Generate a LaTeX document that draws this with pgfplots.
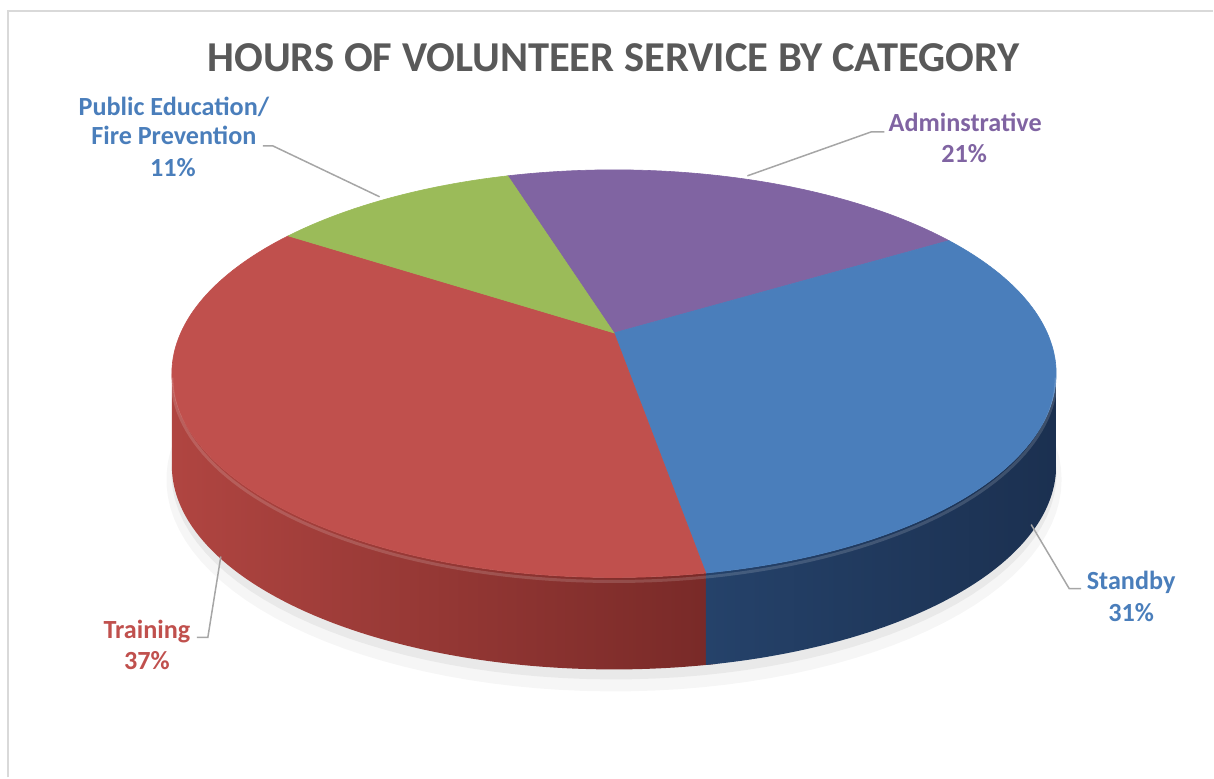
\documentclass[border=0pt]{standalone}
\usepackage{fontspec}
\setmainfont{Carlito}
\usepackage{pgfplots}
\pgfplotsset{compat=1.18}
\usepackage{pgfplotstable}

\definecolor{cPurple}{HTML}{8064A2}
\definecolor{cBlue}{HTML}{4A7EBB}
\definecolor{cRed}{HTML}{C0504D}
\definecolor{cGreen}{HTML}{9BBB59}
\definecolor{redSideL}{HTML}{B04541}
\definecolor{redSideR}{HTML}{772927}
\definecolor{blueSideL}{HTML}{25426A}
\definecolor{blueSideR}{HTML}{1B3050}
\definecolor{titlegray}{HTML}{595959}
\definecolor{leader}{HTML}{A6A6A6}
\definecolor{frame}{HTML}{D9D9D9}

% pie in perspective: disk angle -> picture position (axis units = pixels)
\def\PX#1{(614.5+433.6*cos(#1)/(1+0.2*sin(#1)))}
\def\PY#1{(404+(204*sin(#1)+40.8)/(1+0.2*sin(#1)))}
% side band: t in [0,1] runs the top rim from #1 to #2, t in [1,2] runs back along the bottom rim
\def\SA#1#2{(x<=1 ? ((#1)+((#2)-(#1))*x) : ((#2)-((#2)-(#1))*(x-1)))}
\def\SD{(x<=1 ? 0 : 92)}

\pgfplotstableread{
label pct
Adminstrative 21
Standby 31
Training 37
PublicEd 11
}\piedata

\begin{document}
\begin{tikzpicture}
\pgfplotstablegetelem{0}{pct}\of\piedata \let\pA\pgfplotsretval
\pgfplotstablegetelem{1}{pct}\of\piedata \let\pB\pgfplotsretval
\pgfplotstablegetelem{2}{pct}\of\piedata \let\pC\pgfplotsretval
\pgfplotstablegetelem{3}{pct}\of\piedata \let\pD\pgfplotsretval
\pgfmathsetmacro\aA{107}
\pgfmathsetmacro\aB{\aA-3.6*\pA}
\pgfmathsetmacro\aC{\aB-3.6*\pB}
\pgfmathsetmacro\aD{\aC-3.6*\pC}
\pgfmathsetmacro\aE{\aD-3.6*\pD}
\pgfmathsetmacro\aCx{\aC+2}
\begin{axis}[
at={(0,0)}, anchor=south west,
scale only axis, width=607pt, height=389pt,
xmin=0, xmax=1214, ymin=0, ymax=778,
hide axis, clip=false
]
\path (axis cs:0,0) rectangle (axis cs:1214,778);
% frame
\draw[frame, line width=1pt] (axis cs:8,0) -- (axis cs:8,767) -- (axis cs:1214,767);

% shadow
\addplot[fill=black, fill opacity=0.035, draw=none, domain=0:360, samples=120]
  ({614.5+448*cos(x)}, {298+212*sin(x)}) -- cycle;
\addplot[fill=black, fill opacity=0.05, draw=none, domain=0:360, samples=120]
  ({614.5+443*cos(x)}, {304+206*sin(x)}) -- cycle;

% front sides
\addplot[left color=redSideL, right color=redSideR, draw=none, domain=0:2, samples=201]
  ({\PX{\SA{-168.46}{\aCx}}}, {\PY{\SA{-168.46}{\aCx}}-\SD}) -- cycle;
\addplot[left color=blueSideL, right color=blueSideR, draw=none, domain=0:2, samples=201]
  ({\PX{\SA{\aC}{-11.54}}}, {\PY{\SA{\aC}{-11.54}}-\SD}) -- cycle;

% top slices
\addplot[fill=cPurple, draw=cPurple, line width=0.3pt, domain=\aB:\aA, samples=80]
  ({\PX{x}},{\PY{x}}) -- (axis cs:614.5,444.8) -- cycle;
\addplot[fill=cBlue, draw=cBlue, line width=0.3pt, domain=\aC:\aB, samples=100]
  ({\PX{x}},{\PY{x}}) -- (axis cs:614.5,444.8) -- cycle;
\addplot[fill=cRed, draw=cRed, line width=0.3pt, domain=\aD:\aC, samples=100]
  ({\PX{x}},{\PY{x}}) -- (axis cs:614.5,444.8) -- cycle;
\addplot[fill=cGreen, draw=cGreen, line width=0.3pt, domain=\aE:\aD, samples=60]
  ({\PX{x}},{\PY{x}}) -- (axis cs:614.5,444.8) -- cycle;

% rim highlight
\addplot[draw=white, draw opacity=0.15, line width=1.5pt, domain=-168.46:-11.54, samples=100]
  ({\PX{x}},{\PY{x}-4});

% title
\node[anchor=base, text=titlegray, font=\bfseries\fontsize{21.3}{26}\selectfont]
  at (axis cs:614,706) {HOURS OF VOLUNTEER SERVICE BY CATEGORY};

% labels and leaders
\tikzset{lab/.style={anchor=base, font=\bfseries\fontsize{13.1}{16}\selectfont}}
\node[lab, text=cBlue] at (axis cs:174,662) {Public Education/};
\node[lab, text=cBlue] at (axis cs:174,633) {Fire Prevention};
\node[lab, text=cBlue] at (axis cs:173,601) {11\%};
\draw[leader, line width=0.75pt] (axis cs:263,632) -- (axis cs:273,632) -- (axis cs:380,581);

\node[lab, text=cPurple] at (axis cs:966,646) {Adminstrative};
\node[lab, text=cPurple] at (axis cs:965,615) {21\%};
\draw[leader, line width=0.75pt] (axis cs:885,646) -- (axis cs:872,646) -- (axis cs:748,602);

\node[lab, text=cBlue] at (axis cs:1132,188) {Standby};
\node[lab, text=cBlue] at (axis cs:1132,156) {31\%};
\draw[leader, line width=0.75pt] (axis cs:1082,189) -- (axis cs:1070,189) -- (axis cs:1032,253);

\node[lab, text=cRed] at (axis cs:147,139) {Training};
\node[lab, text=cRed] at (axis cs:147,108) {37\%};
\draw[leader, line width=0.75pt] (axis cs:197,140) -- (axis cs:208,140) -- (axis cs:221,221);
\end{axis}
\end{tikzpicture}
\end{document}
